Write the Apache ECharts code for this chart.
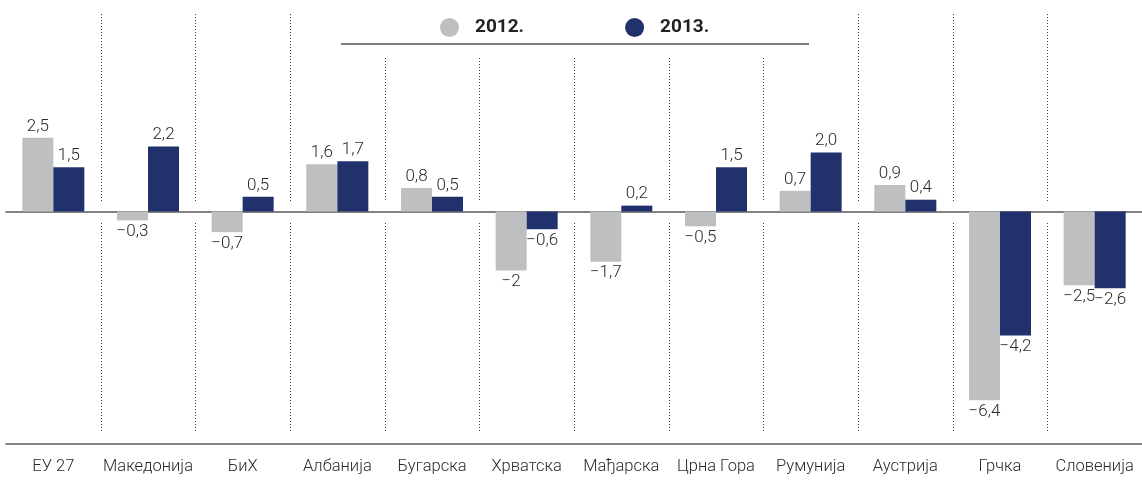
<!DOCTYPE html>
<html>
<head>
<meta charset="utf-8">
<script src="https://cdn.jsdelivr.net/npm/echarts@6/dist/echarts.min.js"></script>
<style>
html,body{margin:0;padding:0;background:#fff;}
#chart{width:1142px;height:487px;}
</style>
</head>
<body>
<div id="chart"></div>
<script>
const categories = ['ЕУ 27','Македонија','БиХ','Албанија','Бугарска','Хрватска','Мађарска','Црна Гора','Румунија','Аустрија','Грчка','Словенија'];
const values2012 = [2.5, -0.3, -0.7, 1.6, 0.8, -2, -1.7, -0.5, 0.7, 0.9, -6.4, -2.5];
const values2013 = [1.5, 2.2, 0.5, 1.7, 0.5, -0.6, 0.2, 1.5, 2.0, 0.4, -4.2, -2.6];
const labels2012 = ['2,5','−0,3','−0,7','1,6','0,8','−2','−1,7','−0,5','0,7','0,9','−6,4','−2,5'];
const labels2013 = ['1,5','2,2','0,5','1,7','0,5','−0,6','0,2','1,5','2,0','0,4','−4,2','−2,6'];
const seriesNames = ['2012.','2013.'];
const boundaries = [0,1,2,3,4,5,6,7,8,9,10];

const FONT = 'Roboto';
const chart = echarts.init(document.getElementById('chart'), null, {renderer:'canvas'});

function mkData(vals){
  return vals.map(v => ({value: v, label: {position: v < 0 ? 'bottom' : 'top'}}));
}

const legendLeftPx = 341, legendRightPx = 809;

const option = {
  animation: false,
  backgroundColor: '#fff',
  legend: {
    data: seriesNames,
    left: 435,
    top: 13,
    icon: 'circle',
    itemWidth: 19,
    itemHeight: 19,
    itemGap: 101,
    textStyle: {fontFamily: FONT, fontSize: 19, fontWeight: 'bold', color: '#222', padding: [0,0,0,11]}
  },
  grid: {left: 6, width: 1138, top: 64, height: 380},
  xAxis: [
    {
      type: 'category', data: categories,
      axisLine: {onZero: false, lineStyle: {color: '#5a5a5a', width: 1.5}},
      axisTick: {show: false},
      axisLabel: {fontFamily: FONT, fontSize: 16.5, fontWeight: 300, color: '#2a2a2a', margin: 14, interval: 0},
      splitLine: {show: false}
    },
    {
      type: 'category', data: categories, position: 'bottom',
      axisLine: {onZero: true, lineStyle: {color: '#5a5a5a', width: 1.5}},
      axisTick: {show: false}, axisLabel: {show: false}
    }
  ],
  yAxis: {type: 'value', min: -7.88, max: 5, show: false, splitLine: {show: false}},
  graphic: [{
    type: 'line', z: 10,
    shape: {x1: legendLeftPx, y1: 44, x2: legendRightPx, y2: 44},
    style: {stroke: '#555', lineWidth: 1.5}
  }],
  series: [
    {
      name: seriesNames[0], type: 'bar', data: mkData(values2012),
      barWidth: 31, barGap: '0%',
      itemStyle: {color: '#bebfc1'},
      label: {show: true, distance: 3, fontFamily: FONT, fontSize: 17, fontWeight: 300, color: '#2a2a2a',
        formatter: p => labels2012[p.dataIndex]}
    },
    {
      name: seriesNames[1], type: 'bar', data: mkData(values2013),
      barWidth: 31, barGap: '0%',
      itemStyle: {color: '#21316c'},
      label: {show: true, distance: 3, fontFamily: FONT, fontSize: 17, fontWeight: 300, color: '#2a2a2a',
        formatter: p => labels2013[p.dataIndex]}
    },
    {
      type: 'custom', name: 'sep', silent: true, clip: false, z: 1,
      data: boundaries,
      encode: {x: 0},
      renderItem: function(params, api){
        const i = api.value(0);
        const xa = api.coord([i, 0]);
        const xb = api.coord([i + 1, 0]);
        const x = Math.round((xa[0] + xb[0]) / 2) + 0.5;
        const zeroY = xa[1];
        const inLegend = x > legendLeftPx && x < legendRightPx;
        const topY = inLegend ? 58 : 14;
        const st = {stroke: '#444', lineWidth: 1, lineDash: [1, 2]};
        return {type: 'group', children: [
          {type: 'line', shape: {x1: x, y1: topY, x2: x, y2: zeroY - 9.5}, style: st},
          {type: 'line', shape: {x1: x, y1: zeroY + 11.5, x2: x, y2: 431}, style: st}
        ]};
      }
    }
  ]
};
chart.setOption(option);
</script>
</body>
</html>
